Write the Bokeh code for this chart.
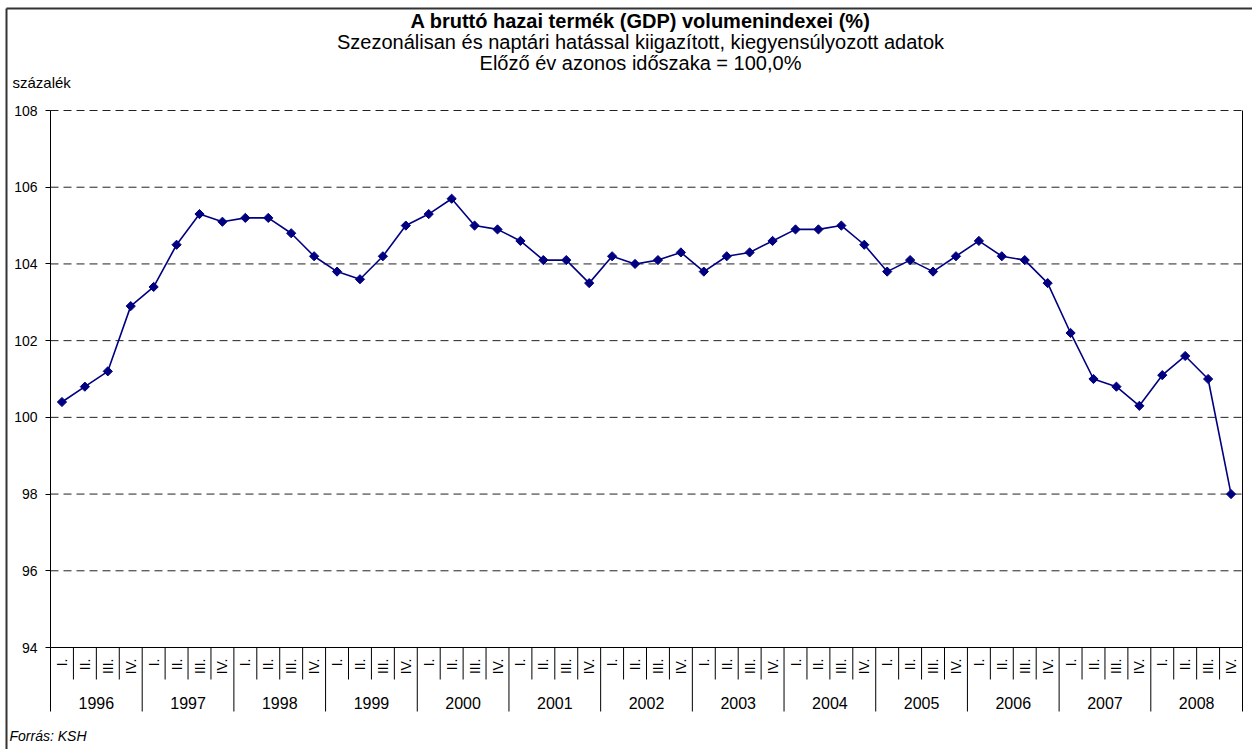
import math
from bokeh.plotting import figure
from bokeh.models import Range1d, FixedTicker, ColumnDataSource
from bokeh.embed import file_html
from bokeh.resources import INLINE
from bokeh.core.properties import value

# ---------------- data ----------------
years = ["1996", "1997", "1998", "1999", "2000", "2001", "2002",
         "2003", "2004", "2005", "2006", "2007", "2008"]
quarters = ["I.", "II.", "III.", "IV."]
gdp_index = [
    100.4, 100.8, 101.2, 102.9,   # 1996
    103.4, 104.5, 105.3, 105.1,   # 1997
    105.2, 105.2, 104.8, 104.2,   # 1998
    103.8, 103.6, 104.2, 105.0,   # 1999
    105.3, 105.7, 105.0, 104.9,   # 2000
    104.6, 104.1, 104.1, 103.5,   # 2001
    104.2, 104.0, 104.1, 104.3,   # 2002
    103.8, 104.2, 104.3, 104.6,   # 2003
    104.9, 104.9, 105.0, 104.5,   # 2004
    103.8, 104.1, 103.8, 104.2,   # 2005
    104.6, 104.2, 104.1, 103.5,   # 2006
    102.2, 101.0, 100.8, 100.3,   # 2007
    101.1, 101.6, 101.0, 98.0,    # 2008
]
y_ticks = [94, 96, 98, 100, 102, 104, 106, 108]

title_text = "A bruttó hazai termék (GDP) volumenindexei (%)"
subtitle_1 = "Szezonálisan és naptári hatással kiigazított, kiegyensúlyozott adatok"
subtitle_2 = "Előző év azonos időszaka = 100,0%"
unit_text = "százalék"
source_text = "Forrás: KSH"

# ---------------- layout (page pixels) ----------------
FONT = "Liberation Sans"
W, H = 1252, 749
P_LEFT, P_RIGHT = 50, 1242        # plot area left/right
Y_TOP_PX, Y_AXIS_PX = 110, 647    # pixel rows of y_ticks[-1] and y_ticks[0]
CAT_Q_PX, CAT_Y_PX = 679, 711     # bottom of quarter / year separators

n_q = len(quarters)
n = len(years) * n_q
y_min, y_max = y_ticks[0], y_ticks[-1]
ppu = (Y_AXIS_PX - Y_TOP_PX) / (y_max - y_min)
xppu = (P_RIGHT - P_LEFT) / n


def dx(px):
    return (px - P_LEFT) / xppu


def dy(py):
    return y_max - (py - Y_TOP_PX) / ppu


p = figure(width=W, height=H,
           x_range=Range1d(dx(0), dx(W)), y_range=Range1d(dy(H), dy(0)),
           output_backend="svg", toolbar_location=None,
           x_axis_location=None, y_axis_location="left",
           min_border_left=0, min_border_right=0, min_border_top=0, min_border_bottom=0)
p.outline_line_color = None
p.background_fill_color = "white"
p.border_fill_color = "white"
p.xgrid.visible = False
p.ygrid.visible = False

# outer chart border (left and top edges)
p.segment(x0=[dx(6), dx(6)], y0=[dy(8), dy(8)], x1=[dx(6), dx(W)], y1=[dy(H), dy(8)],
          line_color="#333333", line_width=2)

# y axis drawn at x = 0
ax = p.yaxis[0]
ax.fixed_location = 0
ax.ticker = FixedTicker(ticks=y_ticks)
ax.bounds = (y_min, y_max)
ax.axis_line_color = "black"
ax.major_tick_line_color = "black"
ax.major_tick_out = 5
ax.major_tick_in = 0
ax.minor_tick_line_color = None
ax.major_label_standoff = 8
ax.major_label_text_font = FONT
ax.major_label_text_font_size = "14px"
ax.major_label_text_color = "black"

# dashed horizontal grid lines
g_ticks = y_ticks[1:]
p.segment(x0=[0] * len(g_ticks), y0=g_ticks, x1=[n] * len(g_ticks), y1=g_ticks,
          line_color="#222222", line_width=1, line_dash="8 5")

# x axis line, right border and category separators
p.segment(x0=[0], y0=[y_min], x1=[n], y1=[y_min], line_color="black", line_width=1)
p.segment(x0=[n], y0=[y_max], x1=[n], y1=[y_min], line_color="black", line_width=1)
q_sep_x = [i for i in range(1, n) if i % n_q != 0]
y_sep_x = [i for i in range(0, n + 1) if i % n_q == 0]
p.segment(x0=q_sep_x, y0=[y_min] * len(q_sep_x), x1=q_sep_x, y1=[dy(CAT_Q_PX)] * len(q_sep_x),
          line_color="black", line_width=1)
p.segment(x0=y_sep_x, y0=[y_min] * len(y_sep_x), x1=y_sep_x, y1=[dy(CAT_Y_PX)] * len(y_sep_x),
          line_color="black", line_width=1)

# quarter labels (rotated, reading upward)
q_src = ColumnDataSource(dict(x=[i + 0.5 for i in range(n)],
                              y=[dy(658)] * n,
                              t=[quarters[i % n_q] for i in range(n)]))
p.text(x="x", y="y", text="t", source=q_src, angle=math.pi / 2,
       text_align="right", text_baseline="middle",
       text_font=value(FONT), text_font_size="14px", text_color="black")

# year labels
yr_src = ColumnDataSource(dict(x=[k * n_q + n_q / 2 for k in range(len(years))],
                               y=[dy(702)] * len(years), t=years))
p.text(x="x", y="y", text="t", source=yr_src,
       text_align="center", text_baseline="middle",
       text_font=value(FONT), text_font_size="16px", text_color="black")

# series
src = ColumnDataSource(dict(x=[i + 0.5 for i in range(n)], y=gdp_index))
p.line(x="x", y="y", source=src, line_color="#000080", line_width=1.6)
p.scatter(x="x", y="y", source=src, marker="square", angle=math.pi / 4, size=6.5,
          fill_color="#000080", line_color="#000080")

# header, unit and source texts
p.text(x=[dx(640)], y=[dy(20)], text=[title_text], text_align="center", text_baseline="middle",
       text_font=value(FONT), text_font_size="20px", text_font_style="bold", text_color="black")
p.text(x=[dx(640)], y=[dy(41)], text=[subtitle_1], text_align="center", text_baseline="middle",
       text_font=value(FONT), text_font_size="20px", text_color="black")
p.text(x=[dx(640)], y=[dy(62)], text=[subtitle_2], text_align="center", text_baseline="middle",
       text_font=value(FONT), text_font_size="20px", text_color="black")
p.text(x=[dx(12)], y=[dy(82)], text=[unit_text], text_align="left", text_baseline="middle",
       text_font=value(FONT), text_font_size="15px", text_color="black")
p.text(x=[dx(9)], y=[dy(735)], text=[source_text], text_align="left", text_baseline="middle",
       text_font=value(FONT), text_font_size="14px", text_font_style="italic", text_color="black")

open("out.html", "w").write(file_html(p, INLINE))
